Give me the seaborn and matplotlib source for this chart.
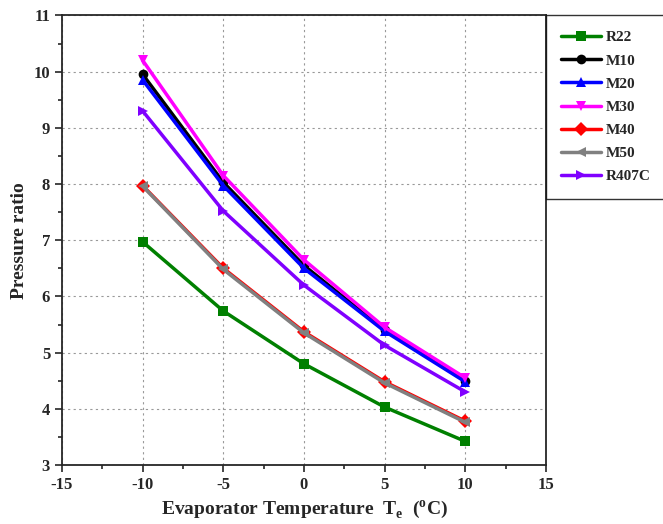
import seaborn as sns
import pandas as pd
import matplotlib.pyplot as plt
from matplotlib.ticker import MultipleLocator

temps = [-10, -5, 0, 5, 10]
r22 = [6.97, 5.74, 4.80, 4.03, 3.42]
m10 = [9.95, 8.03, 6.55, 5.40, 4.50]
m20 = [9.85, 7.97, 6.50, 5.38, 4.48]
m30 = [10.20, 8.15, 6.65, 5.45, 4.55]
m40 = [7.97, 6.50, 5.37, 4.48, 3.78]
m50 = [7.96, 6.48, 5.35, 4.46, 3.76]
r407c = [9.30, 7.52, 6.20, 5.13, 4.30]

series = {"R22": r22, "M10": m10, "M20": m20, "M30": m30,
          "M40": m40, "M50": m50, "R407C": r407c}
colors = ["#008000", "#000000", "#0000ff", "#ff00ff", "#ff0000", "#808080", "#8000ff"]
markers = ["s", "o", "^", "v", "D", "<", ">"]

df = pd.DataFrame([(name, t, v) for name, vals in series.items() for t, v in zip(temps, vals)],
                  columns=["fluid", "temp", "ratio"])

sns.set_style("ticks")
plt.rcParams["font.family"] = ["Liberation Serif", "DejaVu Serif"]
plt.rcParams["font.weight"] = "bold"
plt.rcParams["axes.unicode_minus"] = False

fig = plt.figure(figsize=(6.63, 5.24), dpi=100)
ax = fig.add_axes([0.0935, 0.1126, 0.73, 0.858])

sns.lineplot(data=df, x="temp", y="ratio", hue="fluid", style="fluid",
             palette=colors, markers=markers, dashes=False, linewidth=2.5,
             markersize=7, markeredgewidth=0, ax=ax)

ax.set_xlim(-15, 15)
ax.set_ylim(3, 11)
ax.xaxis.set_major_locator(MultipleLocator(5))
ax.xaxis.set_minor_locator(MultipleLocator(2.5))
ax.yaxis.set_major_locator(MultipleLocator(1))
ax.yaxis.set_minor_locator(MultipleLocator(0.5))
ax.grid(True, which="major", linestyle=(0, (2, 3)), color="#999999", linewidth=0.8)
ax.tick_params(which="major", length=5, width=1.2, labelsize=12)
ax.tick_params(which="minor", length=3, width=1.2)
for s in ax.spines.values():
    s.set_linewidth(1.3)
for lbl in ax.get_xticklabels() + ax.get_yticklabels():
    lbl.set_fontweight("bold")

ax.set_xlabel(r"Evaporator Temperature  T$_{\mathregular{e}}$  ($^{\mathregular{o}}$C)",
              fontsize=14, fontweight="bold")
ax.set_ylabel("Pressure ratio", fontsize=14, fontweight="bold")

leg = ax.legend(loc="upper left", bbox_to_anchor=(1, 1), borderaxespad=0,
                frameon=True, fancybox=False, edgecolor="black", fontsize=11,
                handlelength=2.6, labelspacing=0.62, borderpad=1.0, handletextpad=0.3)
leg.get_frame().set_linewidth(1.0)
for t in leg.get_texts():
    t.set_fontweight("bold")

fig.savefig("out.png", dpi=100)
